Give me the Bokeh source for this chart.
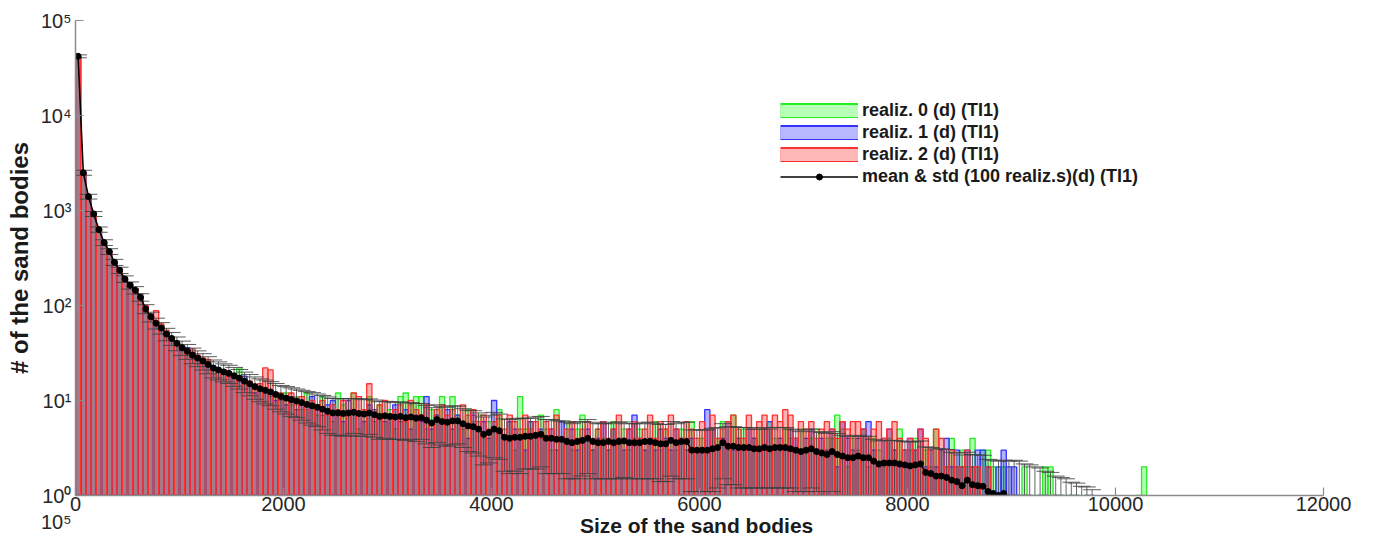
from bokeh.plotting import figure
from bokeh.models import (FixedTicker, CustomJSTickFormatter, Legend, LegendItem)
from bokeh.embed import file_html
from bokeh.resources import INLINE

# ---------------- data ----------------
bin_width = 50
bin_first_center = 25

real0 = [41800, 2480, 1390, 930, 640, 470, 375, 290, 240, 192,
         168, 148, 120, 96, 74, 66, 62, 52, 47, 42,
         38, 34, 31, 29, 27, 25, 22, 22, 20, 19,
         18, 22, 16, 15, 13, 13, 12, 11, 12, 10,
         12, 9, 11, 8, 12, 9, 7, 11, 8, 6,
         12, 9, 7, 12, 5, 8, 11, 6, 9, 7,
         8, 5, 11, 12, 9, 11, 11, 5, 8, 7,
         11, 6, 11, 7, 5, 8, 6, 7, 4, 6,
         5, 8, 4, 6, 3, 11, 5, 6, 4, 7,
         5, 3, 8, 4, 6, 3, 5, 7, 4, 3,
         5, 4, 3, 6, 4, 5, 3, 4, 5, 3,
         4, 6, 3, 5, 4, 3, 5, 4, 6, 3,
         4, 3, 5, 4, 6, 3, 7, 4, 5, 3,
         4, 5, 3, 6, 4, 3, 5, 4, 3, 5,
         3, 4, 5, 3, 4, 4, 7, 5, 2, 4,
         3, 5, 2, 4, 3, 2, 4, 3, 5, 2,
         3, 4, 2, 3, 2, 5, 3, 2, 4, 2,
         3, 2, 4, 2, 3, 3, 2, 1, 2, 1,
         1, 1, 2, 1, 1, 1, 2, 2, 1, 1,
         1, 1, 1, 0, 1, 0, 0, 0, 0, 0,
         0, 0, 0, 0, 1, 2]

real1 = [42300, 2550, 1420, 905, 620, 455, 368, 280, 232, 195,
         160, 142, 118, 90, 78, 62, 60, 48, 44, 40,
         35, 36, 32, 27, 26, 24, 23, 21, 19, 20,
         17, 16, 18, 15, 12, 14, 13, 12, 10, 11,
         9, 11, 8, 10, 9, 11, 8, 7, 9, 10,
         7, 6, 10, 8, 7, 6, 9, 8, 7, 6,
         7, 9, 6, 8, 5, 7, 6, 11, 5, 7,
         6, 8, 5, 7, 6, 4, 7, 5, 6, 4,
         10, 5, 4, 6, 5, 4, 3, 6, 4, 5,
         4, 5, 3, 6, 4, 5, 3, 4, 5, 3,
         4, 6, 3, 5, 4, 3, 5, 7, 4, 3,
         4, 3, 5, 4, 3, 5, 4, 3, 4, 3,
         3, 8, 5, 3, 4, 6, 3, 4, 3, 5,
         4, 3, 5, 6, 3, 4, 3, 5, 4, 3,
         4, 5, 3, 4, 3, 5, 2, 6, 4, 3,
         4, 5, 6, 3, 2, 4, 5, 3, 2, 3,
         4, 3, 5, 2, 3, 2, 3, 4, 2, 3,
         2, 3, 2, 3, 3, 2, 1, 2, 3, 2,
         2, 1, 1, 1, 0, 1, 1, 0, 1, 1,
         0, 1, 1, 0, 1, 1, 0, 0, 0, 0,
         0, 0, 0, 0, 0, 0]

real2 = [41500, 2450, 1370, 940, 635, 462, 360, 288, 236, 186,
         170, 150, 125, 100, 80, 88, 64, 55, 46, 41,
         37, 33, 35, 30, 28, 27, 22, 20, 21, 18,
         19, 18, 15, 16, 13, 15, 22, 21, 11, 12,
         10, 12, 9, 11, 8, 10, 9, 10, 7, 9,
         8, 10, 7, 12, 11, 8, 15, 7, 9, 10,
         7, 8, 9, 6, 10, 8, 7, 9, 6, 8,
         9, 7, 8, 6, 9, 7, 8, 6, 7, 5,
         6, 7, 5, 7, 6, 5, 7, 5, 6, 4,
         6, 5, 7, 4, 5, 6, 4, 5, 6, 4,
         5, 6, 4, 5, 7, 4, 5, 6, 4, 5,
         7, 4, 6, 5, 7, 5, 4, 6, 5, 4,
         6, 5, 7, 4, 5, 6, 7, 5, 4, 7,
         5, 6, 7, 5, 7, 6, 8, 7, 4, 6,
         5, 6, 4, 5, 6, 5, 4, 6, 5, 6,
         6, 5, 4, 5, 6, 4, 5, 6, 4, 3,
         4, 3, 5, 4, 3, 5, 4, 2, 3, 2,
         2, 3, 2, 2, 1, 2, 1, 1, 1, 1,
         1, 0, 1, 0, 0, 0, 0, 0, 1, 0,
         0, 0, 0, 0, 0, 0, 0, 0, 0, 0,
         0, 0, 0, 0, 0, 0]

mean_vals = [42000, 2500, 1400, 920, 630, 460, 370, 285, 235, 190,
             163, 145, 122, 92, 76, 65, 58, 50, 45, 40,
             36, 33, 30, 28, 26, 24, 22, 21, 20, 19.3,
             18.2, 17.2, 16, 15, 14, 13.3, 12.8, 12.3, 11.6, 11.0,
             10.6, 10.2, 9.9, 9.5, 9.1, 8.8, 8.5, 8.1, 7.7, 7.4,
             7.4, 7.3, 7.4, 7.5, 7.3, 7.2, 7.4, 7.1, 6.8, 6.9,
             6.8, 6.7, 6.8, 6.6, 6.7, 6.5, 6.6, 6.2, 5.8, 6.3,
             6.0, 5.9, 6.1, 6.1, 5.7, 5.4, 5.3, 5.0, 4.4, 4.6,
             5.0, 4.8, 4.1, 4.0, 4.1, 4.1, 4.2, 4.2, 4.3, 4.4,
             4.0, 4.0, 3.9, 3.9, 3.7, 3.6, 3.7, 3.8, 4.0, 3.7,
             3.6, 3.6, 3.7, 3.6, 3.7, 3.75, 3.6, 3.6, 3.6, 3.7,
             3.7, 3.6, 3.5, 3.5, 3.8, 3.6, 3.7, 3.7, 3.0, 3.0,
             3.0, 3.0, 3.1, 3.2, 3.6, 3.3, 3.3, 3.2, 3.2, 3.2,
             3.1, 3.1, 3.2, 3.1, 3.2, 3.2, 3.2, 3.1, 3.0, 2.9,
             3.0, 3.1, 2.9, 2.8, 2.7, 2.9, 2.7, 2.6, 2.5, 2.5,
             2.6, 2.5, 2.5, 2.3, 2.15, 2.2, 2.2, 2.2, 2.15, 2.1,
             2.05, 2.1, 2.15, 1.75, 1.7, 1.6, 1.6, 1.55, 1.45, 1.4,
             1.27, 1.45, 1.3, 1.27, 1.25, 1.1, 1.05, 1.0, 1.05, 0.9,
             0.85, 0.8, 0.75, 0.7, 0.6, 0.55, 0.5, 0.45, 0.4, 0.35,
             0.3, 0.28, 0.25, 0.2, 0.18, 0.15]

std_vals = [1500, 150, 80, 55, 40, 32, 26, 21, 18, 15,
            14, 13, 11, 10, 9, 8.5, 8, 7.5, 7, 6.6,
            6.2, 5.9, 5.6, 5.3, 5.1, 4.9, 4.7, 4.5, 4.3, 4.2,
            4.1, 4.0, 3.9, 3.8, 3.7, 3.6, 3.6, 3.5, 3.5, 3.4,
            3.4, 3.4, 3.3, 3.3, 3.3, 3.3, 3.2, 3.2, 3.2, 3.1,
            3.1, 3.1, 3.1, 3.0, 3.1, 3.0, 3.0, 3.0, 2.9, 2.9,
            2.9, 2.8, 2.9, 2.8, 2.8, 2.8, 2.7, 2.7, 2.6, 2.7,
            2.6, 2.6, 2.7, 2.6, 2.5, 2.5, 2.5, 2.4, 2.3, 2.4,
            2.5, 2.4, 2.3, 2.3, 2.3, 2.4, 2.3, 2.3, 2.4, 2.4,
            2.3, 2.3, 2.2, 2.2, 2.2, 2.1, 2.2, 2.2, 2.3, 2.2,
            2.1, 2.1, 2.2, 2.1, 2.2, 2.2, 2.1, 2.1, 2.1, 2.2,
            2.2, 2.1, 2.1, 2.1, 2.2, 2.1, 2.2, 2.2, 1.9, 1.9,
            1.9, 1.9, 2.0, 2.0, 2.1, 2.0, 2.0, 2.0, 2.0, 2.0,
            1.9, 1.9, 2.0, 1.9, 2.0, 2.0, 2.0, 1.9, 1.9, 1.8,
            1.9, 1.9, 1.8, 1.8, 1.8, 1.8, 1.8, 1.7, 1.7, 1.7,
            1.7, 1.7, 1.7, 1.6, 1.6, 1.6, 1.6, 1.6, 1.6, 1.6,
            1.6, 1.6, 1.6, 1.5, 1.5, 1.5, 1.5, 1.5, 1.4, 1.4,
            1.4, 1.4, 1.4, 1.4, 1.4, 1.3, 1.3, 1.3, 1.3, 1.4,
            1.5, 1.5, 1.4, 1.4, 1.4, 1.4, 1.3, 1.3, 1.2, 1.2,
            1.2, 1.1, 1.1, 1.05, 1.05, 1.0]

series_labels = ["realiz. 0 (d) (TI1)", "realiz. 1 (d) (TI1)", "realiz. 2 (d) (TI1)",
                 "mean & std (100 realiz.s)(d) (TI1)"]
x_ticks = [0, 2000, 4000, 6000, 8000, 10000, 12000]
y_ticks = [1, 10, 100, 1000, 10000, 100000]

# ---------------- derived ----------------
centers_r = [bin_first_center + bin_width * i for i in range(len(real0))]
centers_m = [bin_first_center + bin_width * i for i in range(len(mean_vals))]
upper = [m + s for m, s in zip(mean_vals, std_vals)]
lower = [max(m - s, 1e-3) for m, s in zip(mean_vals, std_vals)]

def nz(v):
    return [float(a) if a > 0 else float("nan") for a in v]

FONT = "Liberation Sans"

p = figure(width=1369, height=544, x_range=(0, 12000), y_range=(1, 1e5),
           y_axis_type="log", output_backend="svg", toolbar_location=None,
           min_border_left=75, min_border_right=46, min_border_top=20,
           min_border_bottom=49)
p.outline_line_color = None
p.grid.visible = False
p.background_fill_color = "white"

fill_cols = ["#00ff00", "#0000ff", "#ff0000"]
edge_cols = ["#22ee22", "#3333ff", "#ff3030"]
legend_fill = ["#b8ffb8", "#b8b8ff", "#ffb8b8"]
renderers = []
for vals, fc, ec in zip([real0, real1, real2], fill_cols, edge_cols):
    r = p.vbar(x=centers_r, width=bin_width, bottom=1, top=nz(vals),
               fill_color=fc, fill_alpha=0.3, line_color=ec, line_width=1.3)
    renderers.append(r)

cap = 85
err_col = "#404040"
p.segment(x0=centers_m, y0=lower, x1=centers_m, y1=upper,
          line_color=err_col, line_width=1, line_alpha=0.8)
p.segment(x0=[c - cap for c in centers_m], y0=upper,
          x1=[c + cap for c in centers_m], y1=upper,
          line_color=err_col, line_width=1, line_alpha=0.85)
p.segment(x0=[c - cap for c in centers_m], y0=lower,
          x1=[c + cap for c in centers_m], y1=lower,
          line_color=err_col, line_width=1, line_alpha=0.85)

ml = p.line(x=centers_m, y=mean_vals, line_color="black", line_width=1.6)
ms = p.scatter(x=centers_m, y=mean_vals, marker="circle", size=6,
               fill_color="black", line_color="black")

# legend swatches: proxy lines lying far outside the visible ranges
proxy_x = [-2000, -1500]
proxy_y = [1e-4, 1e-4]
swatches = []
for ec, lf in zip(edge_cols, legend_fill):
    outer = p.line(x=proxy_x, y=proxy_y, line_color=ec, line_width=16)
    inner = p.line(x=proxy_x, y=proxy_y, line_color=lf, line_width=12)
    swatches.append([outer, inner])

# axes
for ax in (p.xaxis[0], p.yaxis[0]):
    ax.axis_line_color = "#8c8c8c"
    ax.axis_line_width = 1.5
    ax.major_tick_line_color = "#8c8c8c"
    ax.major_tick_line_width = 1.2
    ax.major_tick_in = 8
    ax.major_tick_out = 0
    ax.minor_tick_line_color = None
    ax.major_label_text_font = FONT
    ax.major_label_text_font_size = "20px"
    ax.major_label_text_color = "#262626"
    ax.axis_label_text_font = FONT
    ax.axis_label_text_font_style = "bold"
    ax.axis_label_text_color = "#1a1a1a"

p.xaxis.ticker = FixedTicker(ticks=x_ticks)
p.xaxis.major_label_standoff = 1
p.xaxis.axis_label = "Size of the sand  bodies"
p.xaxis.axis_label_standoff = 0
p.xaxis.axis_label_text_font_size = "21px"

p.yaxis.ticker = FixedTicker(ticks=y_ticks)
p.yaxis.formatter = CustomJSTickFormatter(code="""
const sup = ["\u2070", "\u00b9", "\u00b2", "\u00b3", "\u2074", "\u2075", "\u2076"];
const e = Math.round(Math.log10(tick));
if (e == 0) { return "\\n10" + sup[0] + "\\n10" + sup[5]; }
return "10" + sup[e];
""")
p.yaxis.major_label_standoff = 4
p.yaxis.axis_label = "# of the sand bodies"
p.yaxis.axis_label_standoff = 5
p.yaxis.axis_label_text_font_size = "24px"

legend = Legend(items=[
    LegendItem(label=series_labels[0], renderers=swatches[0]),
    LegendItem(label=series_labels[1], renderers=swatches[1]),
    LegendItem(label=series_labels[2], renderers=swatches[2]),
    LegendItem(label=series_labels[3], renderers=[ml, ms]),
], location=(705, 308), glyph_width=78, glyph_height=15, label_standoff=4,
    spacing=1, padding=0, margin=0, border_line_alpha=0,
    background_fill_alpha=0, label_text_font=FONT,
    label_text_font_style="bold", label_text_font_size="18px",
    label_text_color="#1a1a1a", label_height=21)
p.add_layout(legend)

open("out.html", "w").write(file_html(p, INLINE))
